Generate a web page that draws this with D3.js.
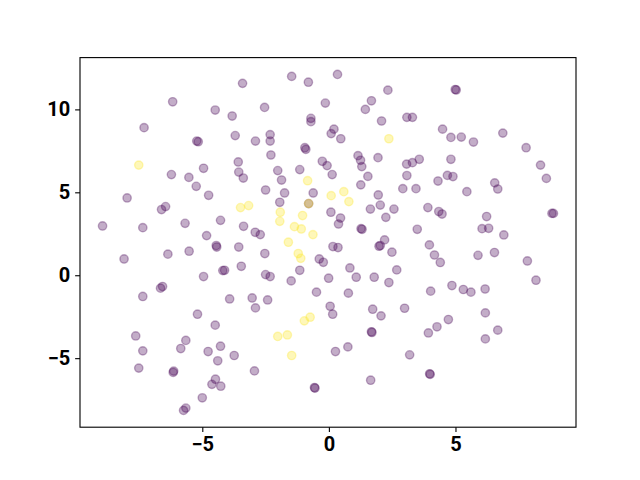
<!DOCTYPE html>
<html><head><meta charset="utf-8">
<script src="https://cdn.jsdelivr.net/npm/d3@7"></script>
<style>body{margin:0;background:#fff}svg{display:block}</style>
</head><body>
<script>
// class 0 (purple) points
const purpleX = [-6.17,-7.30,-5.22,-5.16,-6.22,-5.53,-4.95,-5.24,-3.41,-1.47,-0.81,-4.49,-3.82,-2.54,-0.14,-0.71,-0.71,-3.70,-2.90,-2.32,-2.32,0.09,-0.95,-0.91,-2.29,-3.58,-3.56,-3.38,-2.02,-1.87,-1.15,-0.26,-0.07,0.13,0.34,2.33,1.68,1.44,2.08,3.08,3.30,4.99,5.03,0.20,0.47,4.49,4.82,1.15,1.25,1.30,1.94,1.54,3.07,3.30,3.57,3.08,4.82,4.31,4.68,4.90,1.26,5.23,5.71,6.87,7.79,8.36,8.59,6.55,-7.97,-6.61,-6.45,-4.75,-8.94,-7.35,-5.68,-4.83,-8.09,-6.36,-5.52,-4.95,-6.65,-6.57,-7.35,-2.50,-1.75,-0.62,-1.94,-0.80,-4.28,0.08,-3.37,-2.91,-2.71,-4.45,-4.43,-3.56,-2.53,-0.38,-0.22,0.16,0.36,-3.46,-4.19,-4.12,-1.15,-2.50,-2.32,-1.49,-0.01,-0.49,-3.92,-3.03,-2.42,-2.90,2.92,3.44,1.95,2.03,1.64,2.57,2.25,0.46,0.38,1.27,1.31,3.49,3.91,4.34,4.47,1.98,2.03,2.20,2.49,3.97,4.17,4.40,0.83,2.68,1.08,1.79,2.37,4.86,4.02,0.77,0.05,1.73,2.99,5.45,6.67,8.81,8.87,6.23,6.05,6.31,6.91,5.89,6.54,7.84,8.18,5.31,5.61,6.17,-5.19,-7.63,-7.35,-7.51,-5.65,-5.85,-6.13,-6.15,-5.00,-5.65,-5.74,-4.49,-4.28,-4.77,-4.39,-3.74,-2.94,-4.48,-4.62,-4.27,-0.57,-0.55,0.15,2.06,4.72,4.27,3.93,1.68,1.70,0.26,0.75,3.19,3.98,4.00,1.65,6.18,6.67,6.18];
const purpleY = [10.46,8.90,8.09,8.05,6.07,5.90,6.45,5.36,11.57,11.99,11.64,9.96,9.60,10.12,10.38,9.46,9.26,8.42,8.09,8.48,8.09,8.54,7.69,7.59,7.25,6.83,6.22,5.86,6.31,5.74,6.37,6.87,6.61,6.07,12.11,11.16,10.52,10.00,9.30,9.52,9.52,11.20,11.17,8.81,8.23,8.81,8.31,7.21,6.93,6.55,7.09,5.96,6.70,6.79,6.99,6.01,6.99,5.68,6.02,5.95,5.45,8.33,8.03,8.57,7.69,6.64,5.84,5.57,4.66,3.96,4.14,4.82,2.97,2.87,3.13,2.39,0.98,1.27,1.45,-0.08,-0.78,-0.68,-1.28,5.14,4.96,4.96,4.40,4.32,3.31,3.80,2.95,2.59,2.45,1.79,1.70,1.70,1.31,0.98,0.78,1.73,1.67,0.54,0.28,0.30,0.30,0.04,-0.08,-0.34,-0.18,-1.02,-1.43,-1.37,-1.49,-1.97,5.22,5.22,4.84,4.23,3.99,3.99,3.49,3.45,3.09,2.81,2.77,2.77,4.08,3.84,3.69,1.75,1.79,2.13,1.39,1.83,1.22,0.77,0.44,0.32,-0.12,-0.12,-0.44,-0.62,-0.96,-1.08,-1.87,-2.05,-1.99,5.04,5.20,3.73,3.73,3.54,2.81,2.83,2.43,1.20,1.37,0.86,-0.30,-0.86,-1.02,-0.83,-2.35,-3.66,-4.56,-5.60,-3.93,-4.42,-5.78,-5.86,-7.39,-8.01,-8.15,-3.01,-4.28,-4.60,-5.16,-4.84,-5.77,-6.27,-6.58,-6.69,-6.77,-6.81,-2.35,-2.45,-2.67,-3.11,-3.48,-3.41,-3.45,-4.60,-4.32,-4.80,-5.94,-5.98,-6.33,-2.27,-3.31,-3.84];
// class 1 (yellow) points
const yellowX = [-7.51,-0.84,2.37,0.09,0.59,0.79,-3.49,-3.17,-1.92,-1.94,-0.80,-1.04,-1.36,-1.09,-0.63,-1.60,-1.21,-1.11,-0.97,-0.74,-2.02,-1.64,-1.47];
const yellowY = [6.64,5.70,8.23,4.80,5.04,4.44,4.08,4.20,3.80,3.25,4.32,3.60,2.93,2.79,2.45,1.99,1.31,1.02,-2.75,-2.53,-3.69,-3.60,-4.84];
const xTicks = [-5, 0, 5];
const yTicks = [-5, 0, 5, 10];
const classColors = ["#440154", "#fde725"];

const W = 640, H = 480;
const plotL = 80, plotR = 576, plotT = 57.6, plotB = 427.2;
const svg = d3.select("body").append("svg").attr("width", W).attr("height", H);

const allX = purpleX.concat(yellowX), allY = purpleY.concat(yellowY);
const [x0, x1] = d3.extent(allX), [y0, y1] = d3.extent(allY);
const mx = (x1 - x0) * 0.05, my = (y1 - y0) * 0.05;
const x = d3.scaleLinear().domain([x0 - mx, x1 + mx]).range([plotL, plotR]);
const y = d3.scaleLinear().domain([y0 - my, y1 + my]).range([plotB, plotT]);

const pts = purpleX.map((v, i) => ({x: v, y: purpleY[i], c: 0}))
  .concat(yellowX.map((v, i) => ({x: v, y: yellowY[i], c: 1})));

svg.append("g").selectAll("circle").data(pts).enter().append("circle")
  .attr("cx", d => x(d.x)).attr("cy", d => y(d.y)).attr("r", 4.17)
  .attr("fill", d => classColors[d.c]).attr("fill-opacity", 0.32)
  .attr("stroke", d => classColors[d.c]).attr("stroke-opacity", 0.32)
  .attr("stroke-width", 1.39);

const fmt = d => (d < 0 ? "\u2212" + Math.abs(d) : "" + d);
const xAxis = svg.append("g").attr("transform", `translate(0,${plotB})`)
  .call(d3.axisBottom(x).tickValues(xTicks).tickFormat(fmt).tickSize(4.86).tickPadding(4.86));
const yAxis = svg.append("g").attr("transform", `translate(${plotL},0)`)
  .call(d3.axisLeft(y).tickValues(yTicks).tickFormat(fmt).tickSize(4.86).tickPadding(4.86));
[xAxis, yAxis].forEach(g => {
  g.select(".domain").remove();
  g.selectAll("line").attr("stroke", "#000").attr("stroke-width", 1.11);
  g.selectAll("text").attr("fill", "#000").style("font-family", "Roboto")
    .style("font-weight", "bold").style("font-size", "20px");
});
svg.append("rect").attr("x", plotL).attr("y", plotT).attr("width", plotR - plotL).attr("height", plotB - plotT)
  .attr("fill", "none").attr("stroke", "#000").attr("stroke-width", 1.11);
</script>
</body></html>
